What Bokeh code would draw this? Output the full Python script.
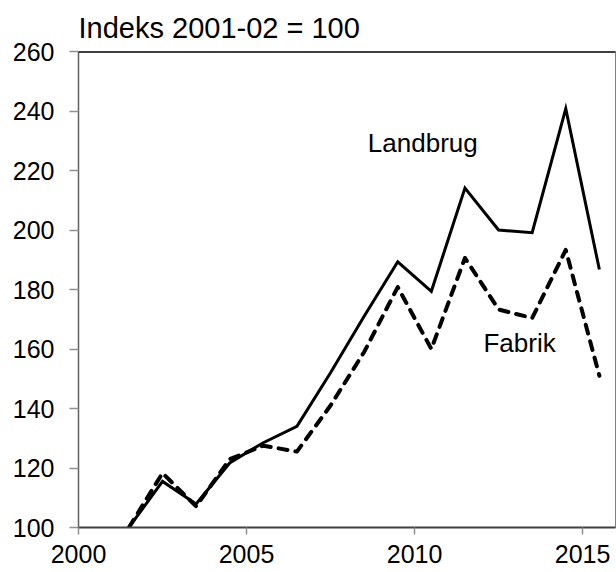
from bokeh.plotting import figure
from bokeh.models import FixedTicker, Range1d, Span, Label
from bokeh.embed import file_html
from bokeh.resources import INLINE

# Data (season midpoints, index 2001-02 = 100)
years = [2001.5, 2002.5, 2003.5, 2004.5, 2005.5, 2006.5, 2007.5, 2008.5,
         2009.5, 2010.5, 2011.5, 2012.5, 2013.5, 2014.5, 2015.5]
landbrug = [100, 115.5, 107.9, 121.7, 128.5, 134, 152, 171,
            189.3, 179.4, 214.1, 200, 199.1, 240.8, 186.7]
fabrik = [100, 118.3, 107.1, 123, 127.5, 125.5, 141, 159,
          180.8, 160, 190.6, 173.3, 170.4, 193.3, 151]
x_ticks = [2000, 2005, 2010, 2015]
y_ticks = [100, 120, 140, 160, 180, 200, 220, 240, 260]
title_text = "Indeks 2001-02 = 100"
label_landbrug = ("Landbrug", 2008.61, 229.2)
label_fabrik = ("Fabrik", 2012.05, 162.0)

FONT = "Liberation Sans"

p = figure(width=616, height=572, output_backend="svg", toolbar_location=None,
           x_range=Range1d(2000, 2015.98), y_range=Range1d(100, 260),
           min_border_left=78, min_border_right=1, min_border_top=51,
           min_border_bottom=45)

p.title.text = title_text
p.title.text_font = FONT
p.title.text_font_size = "29px"
p.title.text_font_style = "normal"
p.title.text_color = "black"
p.title.align = "left"
p.title.offset = 0
p.title.standoff = 15

p.grid.visible = False
p.background_fill_color = "white"
p.border_fill_color = "white"
p.outline_line_color = "#808080"
p.outline_line_width = 1

for ax in (p.xaxis, p.yaxis):
    ax.major_label_text_font = FONT
    ax.major_label_text_font_size = "25px"
    ax.major_label_text_color = "black"
    ax.minor_tick_line_color = None
    ax.major_tick_in = 0
    ax.major_tick_line_color = "#909090"
    ax.major_tick_line_width = 1.5

p.xaxis.ticker = FixedTicker(ticks=x_ticks)
p.yaxis.ticker = FixedTicker(ticks=y_ticks)
p.xaxis.major_tick_out = 7
p.yaxis.major_tick_out = 9
p.xaxis.major_label_standoff = 10
p.yaxis.major_label_standoff = 15
p.xaxis.axis_line_color = "#404040"
p.xaxis.axis_line_width = 2
p.yaxis.axis_line_color = "#606060"
p.yaxis.axis_line_width = 1.5

p.add_layout(Span(location=260, dimension="width", line_color="black", line_width=2.5))

p.line(years, landbrug, line_color="black", line_width=3, line_join="miter")
p.line(years, fabrik, line_color="black", line_width=4, line_dash="9 8",
       line_cap="round", line_join="round")

for txt, lx, ly in (label_landbrug, label_fabrik):
    p.add_layout(Label(x=lx, y=ly, text=txt, text_font=FONT, text_font_size="26px",
                       text_color="black", text_align="left", text_baseline="alphabetic"))

open("out.html", "w").write(file_html(p, INLINE))
